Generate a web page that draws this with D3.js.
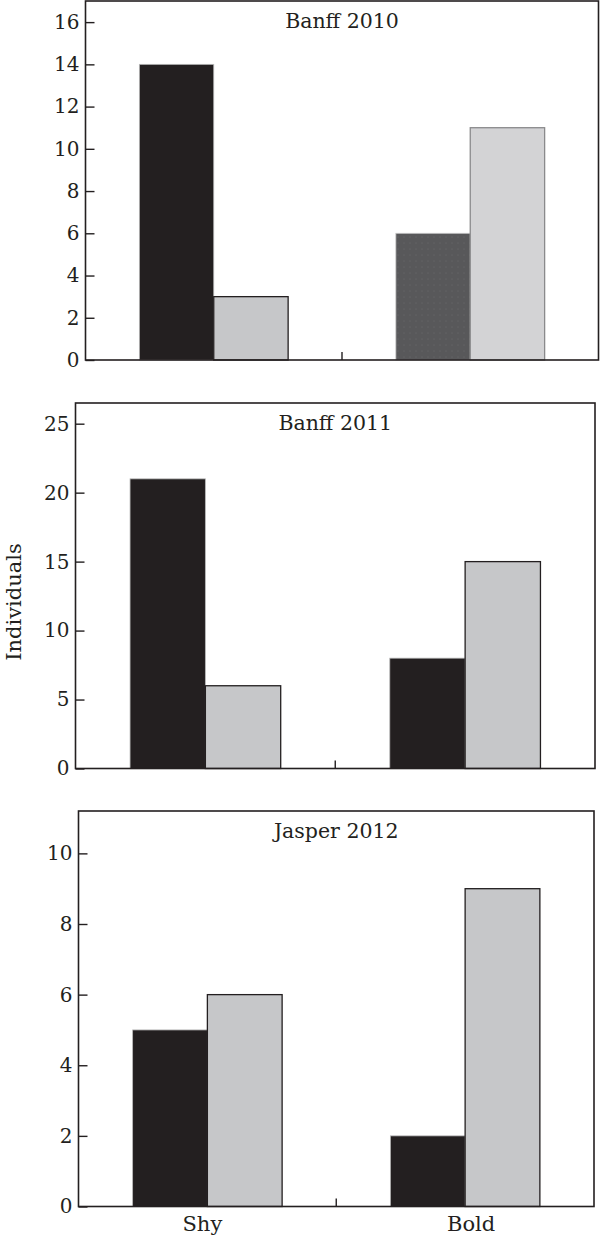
<!DOCTYPE html>
<meta charset="utf-8">
<style>
  body { margin: 0; background: #fff; }
  svg text { font-family: "DejaVu Serif", serif; fill: #231f20; }
</style>
<script src="https://cdn.jsdelivr.net/npm/d3@7"></script>
<div id="my_dataviz"></div>
<script>

  // groups on the x axis and the two series in each group
  var groups = ["Shy", "Bold"];
  var series = ["dark", "light"];

  // panel titles
  var titles = ["Banff 2010", "Banff 2011", "Jasper 2012"];

  // values (Shy, Bold)
  var dark2010 = [14, 6];
  var light2010 = [3, 11];
  var dark2011 = [21, 8];
  var light2011 = [6, 15];
  var dark2012 = [5, 2];
  var light2012 = [6, 9];

  // y tick labels and upper limits of each panel
  var ticks2010 = [0, 2, 4, 6, 8, 10, 12, 14, 16];
  var ticks2011 = [0, 5, 10, 15, 20, 25];
  var ticks2012 = [0, 2, 4, 6, 8, 10];
  var yMax = [17, 26.5, 11.2];

  var panels = [
    {title: titles[0], dark: dark2010, light: light2010, ticks: ticks2010, max: yMax[0],
     box: {left: 85.5, right: 598.5, top: 1, bottom: 360}, special: true},
    {title: titles[1], dark: dark2011, light: light2011, ticks: ticks2011, max: yMax[1],
     box: {left: 75.5, right: 595, top: 403, bottom: 768.5}},
    {title: titles[2], dark: dark2012, light: light2012, ticks: ticks2012, max: yMax[2],
     box: {left: 78.5, right: 594, top: 811, bottom: 1206.5}}
  ];

  var ink = "#231f20";

  var svg = d3.select("#my_dataviz")
    .append("svg")
      .attr("width", 600)
      .attr("height", 1240);

  // dotted texture for the dark grey bar of the first panel
  var pat = svg.append("defs").append("pattern")
      .attr("id", "dots")
      .attr("width", 6).attr("height", 6)
      .attr("patternUnits", "userSpaceOnUse");
  pat.append("rect").attr("width", 6).attr("height", 6).attr("fill", "#58585a");
  pat.append("circle").attr("cx", 2).attr("cy", 2).attr("r", 0.6).attr("fill", "#6c6c6e");

  panels.forEach(function(p, i) {
    var width = p.box.right - p.box.left,
        height = p.box.bottom - p.box.top;

    var g = svg.append("g")
      .attr("transform", "translate(" + p.box.left + "," + p.box.top + ")");

    var x = d3.scaleBand()
      .domain(groups)
      .range([0, width])
      .padding(0);

    var xSubgroup = d3.scaleBand()
      .domain(series)
      .range([x.bandwidth() * 0.21, x.bandwidth() * 0.79])
      .padding(0);

    var y = d3.scaleLinear()
      .domain([0, p.max])
      .range([height, 0]);

    var rows = groups.map(function(grp, j) {
      return {group: grp, values: [
        {key: "dark", value: p.dark[j]},
        {key: "light", value: p.light[j]}
      ]};
    });

    // bars
    g.append("g")
      .selectAll("g")
      .data(rows)
      .enter()
      .append("g")
        .attr("transform", function(d) { return "translate(" + x(d.group) + ",0)"; })
      .selectAll("rect")
      .data(function(d) {
        return d.values.map(function(v) { v.group = d.group; return v; });
      })
      .enter().append("rect")
        .attr("x", function(d) { return xSubgroup(d.key); })
        .attr("y", function(d) { return y(d.value); })
        .attr("width", xSubgroup.bandwidth())
        .attr("height", function(d) { return height - y(d.value); })
        .attr("fill", function(d) {
          if (p.special && d.group === "Bold") return d.key === "dark" ? "url(#dots)" : "#d3d3d5";
          return d.key === "dark" ? ink : "#c6c7c9";
        })
        .attr("stroke", function(d) {
          if (p.special && d.group === "Bold") return d.key === "dark" ? "#c8c8c8" : "#8a8a8c";
          return d.key === "dark" ? "#b8b8b8" : ink;
        })
        .attr("stroke-width", function(d) { return d.key === "dark" ? 0.8 : 1.3; });

    // y axis with inward ticks
    var yAxis = g.append("g")
      .call(d3.axisLeft(y).tickValues(p.ticks).tickSize(-9).tickPadding(6).tickFormat(d3.format("d")));
    yAxis.select(".domain").remove();
    yAxis.selectAll("line").attr("stroke", ink).attr("stroke-width", 1.4);
    yAxis.selectAll("text")
      .style("font-size", "20px")
      .style("font-family", '"DejaVu Serif", serif')
      .attr("fill", ink);

    // middle tick on the x axis
    g.append("line")
      .attr("x1", width / 2).attr("x2", width / 2)
      .attr("y1", height).attr("y2", height - 8)
      .attr("stroke", ink).attr("stroke-width", 1.4);

    // frame
    g.append("rect")
      .attr("width", width).attr("height", height)
      .attr("fill", "none")
      .attr("stroke", ink)
      .attr("stroke-width", 1.6);

    // panel title
    g.append("text")
      .attr("x", width / 2)
      .attr("y", 26.5)
      .attr("text-anchor", "middle")
      .style("font-size", "20.5px")
      .text(p.title);

    // category labels under the last panel
    if (i === panels.length - 1) {
      g.selectAll(".cat")
        .data(groups)
        .enter().append("text")
          .attr("class", "cat")
          .attr("x", function(d) { return x(d) + x.bandwidth() / 2 + (d === "Bold" ? 6 : -5); })
          .attr("y", height + 24.5)
          .attr("text-anchor", "middle")
          .style("font-size", "21px")
          .text(function(d) { return d; });
    }
  });

  // shared y label
  svg.append("text")
    .attr("transform", "translate(21,602) rotate(-90)")
    .attr("text-anchor", "middle")
    .style("font-size", "21px")
    .text("Individuals");

</script>
